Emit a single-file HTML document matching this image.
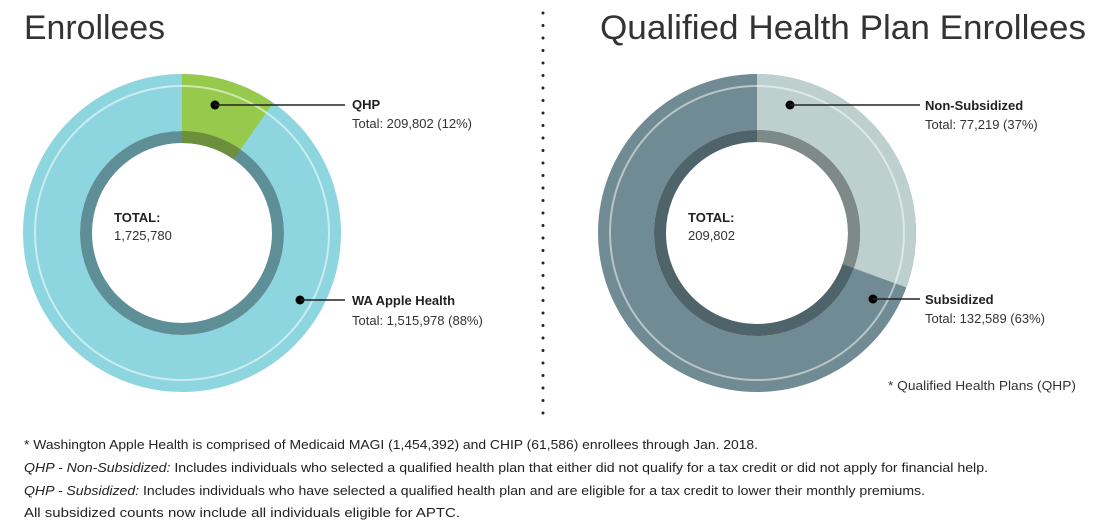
<!DOCTYPE html>
<html><head><meta charset="utf-8"><style>
html,body{margin:0;padding:0;background:#fff;}
svg{display:block;font-family:"Liberation Sans",sans-serif;}
</style></head><body>
<svg width="1108" height="532" viewBox="0 0 1108 532" xmlns="http://www.w3.org/2000/svg">
<text x="24" y="39" font-size="34" fill="#333" textLength="141" lengthAdjust="spacingAndGlyphs">Enrollees</text>
<text x="600" y="39" font-size="34" fill="#333" textLength="486" lengthAdjust="spacingAndGlyphs">Qualified Health Plan Enrollees</text>
<line x1="543" y1="13" x2="543" y2="420" stroke="#222" stroke-width="3" stroke-linecap="round" stroke-dasharray="0 12.5"/>
<!-- left donut -->
<g>
<circle cx="182" cy="233" r="130.5" fill="none" stroke="#8dd5df" stroke-width="57"/>
<circle cx="182" cy="233" r="130.5" fill="none" stroke="#97c94c" stroke-width="57" stroke-dasharray="79.7 1000" transform="rotate(-90 182 233)"/>
<circle cx="182" cy="233" r="96" fill="none" stroke="#5e8f97" stroke-width="12"/>
<circle cx="182" cy="233" r="96" fill="none" stroke="#6b8f3a" stroke-width="12" stroke-dasharray="58.6 1000" transform="rotate(-90 182 233)"/>
<circle cx="182" cy="233" r="147" fill="none" stroke="rgba(255,255,255,0.55)" stroke-width="2"/>
</g>
<text x="114" y="222" font-size="13" font-weight="bold" fill="#222">TOTAL:</text>
<text x="114" y="240" font-size="13" fill="#333">1,725,780</text>
<circle cx="215" cy="105" r="4.5" fill="#000"/>
<line x1="215" y1="105" x2="345" y2="105" stroke="#222" stroke-width="1.5"/>
<text x="352" y="109" font-size="13" font-weight="bold" fill="#222">QHP</text>
<text x="352" y="128" font-size="13" fill="#333">Total: 209,802 (12%)</text>
<circle cx="300" cy="300" r="4.5" fill="#000"/>
<line x1="300" y1="300" x2="345" y2="300" stroke="#222" stroke-width="1.5"/>
<text x="352" y="305" font-size="13" font-weight="bold" fill="#222">WA Apple Health</text>
<text x="352" y="325" font-size="13" fill="#333">Total: 1,515,978 (88%)</text>
<!-- right donut -->
<g>
<circle cx="757" cy="233" r="131" fill="none" stroke="#708b93" stroke-width="56"/>
<circle cx="757" cy="233" r="131" fill="none" stroke="#bdd0cd" stroke-width="56" stroke-dasharray="251.5 1000" transform="rotate(-90 757 233)"/>
<circle cx="757" cy="233" r="97" fill="none" stroke="#4f636a" stroke-width="12"/>
<circle cx="757" cy="233" r="97" fill="none" stroke="#7e8a88" stroke-width="12" stroke-dasharray="186.2 1000" transform="rotate(-90 757 233)"/>
<circle cx="757" cy="233" r="147" fill="none" stroke="rgba(255,255,255,0.5)" stroke-width="2"/>
</g>
<text x="688" y="222" font-size="13" font-weight="bold" fill="#222">TOTAL:</text>
<text x="688" y="240" font-size="13" fill="#333">209,802</text>
<circle cx="790" cy="105" r="4.5" fill="#000"/>
<line x1="790" y1="105" x2="920" y2="105" stroke="#222" stroke-width="1.5"/>
<text x="925" y="110" font-size="13" font-weight="bold" fill="#222">Non-Subsidized</text>
<text x="925" y="129" font-size="13" fill="#333">Total: 77,219 (37%)</text>
<circle cx="873" cy="299" r="4.5" fill="#000"/>
<line x1="873" y1="299" x2="920" y2="299" stroke="#222" stroke-width="1.5"/>
<text x="925" y="304" font-size="13" font-weight="bold" fill="#222">Subsidized</text>
<text x="925" y="323" font-size="13" fill="#333">Total: 132,589 (63%)</text>
<text x="888" y="390" font-size="13" fill="#333" textLength="188" lengthAdjust="spacingAndGlyphs">* Qualified Health Plans (QHP)</text>
<!-- footnotes -->
<g font-size="13" fill="#222">
<text x="24" y="449" textLength="734" lengthAdjust="spacingAndGlyphs">* Washington Apple Health is comprised of  Medicaid MAGI (1,454,392) and CHIP (61,586) enrollees through Jan. 2018.</text>
<text x="24" y="472" textLength="964" lengthAdjust="spacingAndGlyphs"><tspan font-style="italic">QHP - Non-Subsidized:</tspan> Includes individuals who selected a qualified health plan that either did not qualify for a tax credit or did not apply for financial help.</text>
<text x="24" y="495" textLength="901" lengthAdjust="spacingAndGlyphs"><tspan font-style="italic">QHP - Subsidized:</tspan> Includes individuals who have selected a qualified health plan and are eligible for a tax credit to lower their monthly premiums.</text>
<text x="24" y="517" textLength="436" lengthAdjust="spacingAndGlyphs">All subsidized counts now include all individuals eligible for APTC.</text>
</g>
</svg>
</body></html>
